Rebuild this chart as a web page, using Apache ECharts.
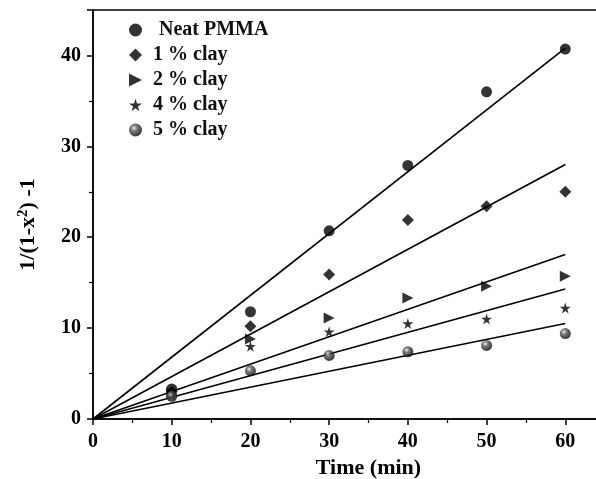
<!DOCTYPE html>
<html>
<head>
<meta charset="utf-8">
<script src="https://cdn.jsdelivr.net/npm/echarts@6/dist/echarts.min.js"></script>
<style>
  html, body { margin: 0; padding: 0; background: #fff; }
  #chart { width: 596px; height: 479px; }
</style>
</head>
<body>
<div id="chart"></div>
<script>
const times = [10, 20, 30, 40, 50, 60]
const seriesNames = ['Neat PMMA', '1 % clay', '2 % clay', '4 % clay', '5 % clay']
const neatPmma = [3.3, 11.8, 20.7, 27.9, 36.0, 40.7]
const clay1 = [3.0, 10.2, 15.9, 21.9, 23.4, 25.0]
const clay2 = [2.8, 8.8, 11.1, 13.3, 14.6, 15.7]
const clay4 = [2.6, 8.0, 9.6, 10.5, 11.0, 12.2]
const clay5 = [2.5, 5.3, 7.0, 7.4, 8.1, 9.4]
// fitted straight lines through the origin, value at t = 60
const fitEnds = [40.8, 28.0, 18.1, 14.3, 10.5]

const starPath = 'path://M50,0 L61,35 L98,35 L68,57 L79,92 L50,70 L21,92 L32,57 L2,35 L39,35 Z'
const triRight = 'path://M0,0 L10,5 L0,10 Z'
const sphere = {
  type: 'radial', x: 0.38, y: 0.35, r: 0.7,
  colorStops: [
    { offset: 0, color: '#e8e8e8' },
    { offset: 0.35, color: '#555' },
    { offset: 1, color: '#000' }
  ]
}

const allValues = [neatPmma, clay1, clay2, clay4, clay5]
const symbols = ['circle', 'diamond', triRight, starPath, 'circle']
const sizes = [11, 12, 11, 11, 11]
const colors = ['#000', '#000', '#000', '#000', sphere]

const font = '"Liberation Serif", "Times New Roman", serif'

const series = []
allValues.forEach((vals, i) => {
  series.push({
    name: seriesNames[i],
    type: 'scatter',
    symbol: symbols[i],
    symbolSize: sizes[i],
    itemStyle: { color: colors[i] },
    data: times.map((t, j) => [t, vals[j]]),
    z: 3
  })
  series.push({
    type: 'line',
    symbol: 'none',
    lineStyle: { color: '#000', width: 1.6 },
    data: [[0, 0], [60, fitEnds[i]]],
    silent: true,
    z: 2
  })
})

const chart = echarts.init(document.getElementById('chart'))
chart.setOption({
  animation: false,
  textStyle: { fontFamily: font },
  grid: {
    left: 93, top: 10, right: -48, bottom: 60,
    containLabel: false,
    outerBoundsMode: 'none',
    show: true, borderColor: '#000', borderWidth: 1.5
  },
  legend: {
    orient: 'vertical',
    left: 124, top: 15,
    itemGap: 5,
    itemWidth: 13, itemHeight: 13,
    data: seriesNames.map((n, i) => ({
      name: n,
      textStyle: { padding: [0, 0, 0, i === 0 ? 12 : 6] }
    })),
    textStyle: { fontFamily: font, fontWeight: 'bold', fontSize: 20, lineHeight: 20, color: '#111' }
  },
  xAxis: {
    type: 'value',
    min: 0, max: 70, interval: 10,
    axisLine: { lineStyle: { color: '#000', width: 1.5 } },
    axisTick: { length: 6, lineStyle: { color: '#000', width: 1.5 } },
    minorTick: { show: true, splitNumber: 2, length: 4, lineStyle: { color: '#000', width: 1.2 } },
    splitLine: { show: false },
    axisLabel: { color: '#000', fontSize: 20, fontWeight: 'bold', margin: 13, fontFamily: font },
    name: 'Time (min)',
    nameLocation: 'middle',
    nameGap: 36,
    nameTextStyle: { color: '#000', fontSize: 22, fontWeight: 'bold', fontFamily: font }
  },
  yAxis: {
    type: 'value',
    min: 0, max: 45, interval: 10,
    axisLine: { lineStyle: { color: '#000', width: 1.5 } },
    axisTick: { length: 6, lineStyle: { color: '#000', width: 1.5 } },
    minorTick: { show: true, splitNumber: 2, length: 4, lineStyle: { color: '#000', width: 1.2 } },
    splitLine: { show: false },
    axisLabel: { color: '#000', fontSize: 20, fontWeight: 'bold', margin: 12, fontFamily: font, showMaxLabel: false },
    name: '{b|1/(1-x}{s|2}{b|) -1}',
    nameLocation: 'middle',
    nameGap: 52,
    nameTextStyle: {
      padding: [0, 20, 0, 0],
      rich: {
        b: { fontSize: 22, fontWeight: 'bold', fontFamily: font, color: '#000' },
        s: { fontSize: 15, fontWeight: 'bold', fontFamily: font, color: '#000', verticalAlign: 'top', padding: [0, 0, 10, 0] }
      }
    }
  },
  series: series
})
</script>
</body>
</html>
